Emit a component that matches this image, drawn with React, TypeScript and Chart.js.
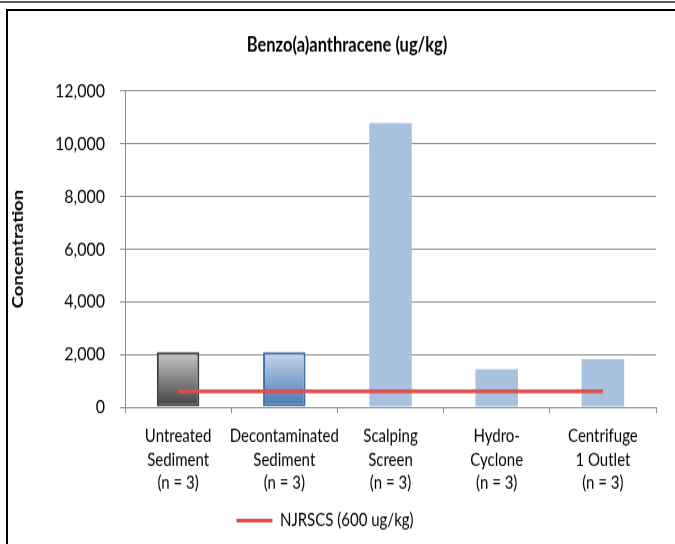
import React, { useEffect, useRef } from "react";
import { Chart, registerables } from "chart.js";

Chart.register(...registerables);

const categories: string[][] = [
  ["Untreated", "Sediment", "(n = 3)"],
  ["Decontaminated", "Sediment", "(n = 3)"],
  ["Scalping", "Screen", "(n = 3)"],
  ["Hydro-", "Cyclone", "(n = 3)"],
  ["Centrifuge", "1 Outlet", "(n = 3)"],
];
const concentrationValues: number[] = [2090, 2090, 10780, 1440, 1820];
const njrscsValues: number[] = [600, 600, 600, 600, 600];
const yTickValues: number[] = [0, 2000, 4000, 6000, 8000, 10000, 12000];

const titleText = "Benzo(a)anthracene (ug/kg)";
const yTitle = "Concentration";
const lineLabel = "NJRSCS (600 ug/kg)";

const FONT = "Lato, 'Open Sans', sans-serif";
const gradientStops: ([string, string] | null)[] = [
  ["#c9c9c9", "#404040"],
  ["#c8d8ee", "#4777b0"],
  null,
  null,
  null,
];
const borderColors = ["#3d3d3d", "#3f6e9f", "#a7c1df", "#a7c1df", "#a7c1df"];
const solidFill = "#a7c1df";
const lineColor = "#e44a48";

const W = 675;
const H = 453; // drawn height, stretched vertically to 544
const STRETCH = 544 / H;

export default function App() {
  const canvasRef = useRef<HTMLCanvasElement | null>(null);

  useEffect(() => {
    document.body.style.margin = "0";
    const canvas = canvasRef.current;
    if (!canvas) return;

    const blockShift = {
      id: "blockShift",
      beforeDraw(chart: any) {
        const lg = chart.legend;
        if (lg && !lg._shifted) {
          lg.left -= 6;
          lg._shifted = true;
        }
        const tb = chart.titleBlock;
        if (tb && !tb._shifted) {
          tb.left += 19;
          tb.right += 19;
          tb._shifted = true;
        }
      },
    };

    const chart = new Chart(canvas, {
      type: "bar",
      data: {
        labels: categories,
        datasets: [
          {
            type: "line" as const,
            label: lineLabel,
            data: njrscsValues,
            borderColor: lineColor,
            backgroundColor: lineColor,
            borderWidth: 3.4,
            pointRadius: 0,
            order: 0,
          },
          {
            type: "bar" as const,
            label: "Concentration",
            data: concentrationValues,
            order: 1,
            barPercentage: 0.8,
            categoryPercentage: 0.5,
            borderWidth: (ctx: any) => (gradientStops[ctx.dataIndex] ? 2 : 0),
            borderColor: (ctx: any) => borderColors[ctx.dataIndex],
            borderSkipped: false,
            backgroundColor: (ctx: any) => {
              const stops = gradientStops[ctx.dataIndex];
              const ch = ctx.chart;
              if (!stops || !ch.chartArea) return solidFill;
              const y = ch.scales.y;
              const top = y.getPixelForValue(ctx.raw);
              const bot = y.getPixelForValue(0);
              const g = ch.ctx.createLinearGradient(0, top, 0, bot);
              g.addColorStop(0, stops[0]);
              g.addColorStop(1, stops[1]);
              return g;
            },
          },
        ],
      },
      options: {
        animation: false,
        responsive: false,
        maintainAspectRatio: false,
        layout: { padding: { left: 0, right: 19, top: 0, bottom: 2 } },
        plugins: {
          title: {
            display: true,
            text: titleText,
            color: "#000",
            font: { family: FONT, size: 16.5, weight: "bold" },
            padding: { top: 27.5, bottom: 28.5 },
          },
          legend: {
            position: "bottom",
            labels: {
              color: "#000",
              font: { family: FONT, size: 15 },
              boxWidth: 36,
              boxHeight: 3,
              padding: 10,
              generateLabels: (ch: any) =>
                Chart.defaults.plugins.legend.labels
                  .generateLabels(ch)
                  .filter((l: any) => l.datasetIndex === 0)
                  .map((l: any) => ({ ...l, lineWidth: 0, fillStyle: lineColor })),
            },
          },
          tooltip: { enabled: false },
        },
        scales: {
          x: {
            grid: {
              offset: true,
              drawOnChartArea: false,
              tickLength: 5,
              color: "#8c8c8c",
            },
            border: { color: "#8c8c8c", width: 1 },
            ticks: {
              color: "#000",
              font: { family: FONT, size: 15, lineHeight: 1.277 },
              padding: 10,
              maxRotation: 0,
              autoSkip: false,
            },
            afterFit: (s: any) => {
              s.height = 77;
            },
          },
          y: {
            min: 0,
            max: 12000,
            afterBuildTicks: (s: any) => {
              s.ticks = yTickValues.map((v) => ({ value: v }));
            },
            grid: { color: "#8c8c8c", tickLength: 5 },
            border: { color: "#8c8c8c", width: 1 },
            ticks: {
              color: "#000",
              font: { family: FONT, size: 16 },
              padding: 15,
              callback: (v: any) => Number(v).toLocaleString("en-US"),
            },
            title: {
              display: true,
              text: yTitle,
              color: "#000",
              font: { family: FONT, size: 15.5, weight: "bold" },
              padding: { top: 9, bottom: 0 },
            },
            afterFit: (s: any) => {
              s.width = 125;
            },
          },
        },
      },
      plugins: [blockShift],
    });
    return () => chart.destroy();
  }, []);

  return (
    <div style={{ position: "relative", width: 675, height: 544, overflow: "hidden", background: "#fff" }}>
      <div style={{ position: "absolute", left: 0, top: 1, width: 675, height: 2, background: "#5a5a5a" }} />
      <div
        style={{
          position: "absolute",
          left: 6,
          top: 9,
          width: 700,
          height: 560,
          borderLeft: "2px solid #000",
          borderTop: "2px solid #000",
          boxSizing: "border-box",
        }}
      />
      <canvas
        ref={canvasRef}
        width={W}
        height={H}
        style={{
          position: "absolute",
          left: 0,
          top: 0,
          width: W,
          height: H,
          transform: `scaleY(${STRETCH})`,
          transformOrigin: "0 0",
        }}
      />
    </div>
  );
}
